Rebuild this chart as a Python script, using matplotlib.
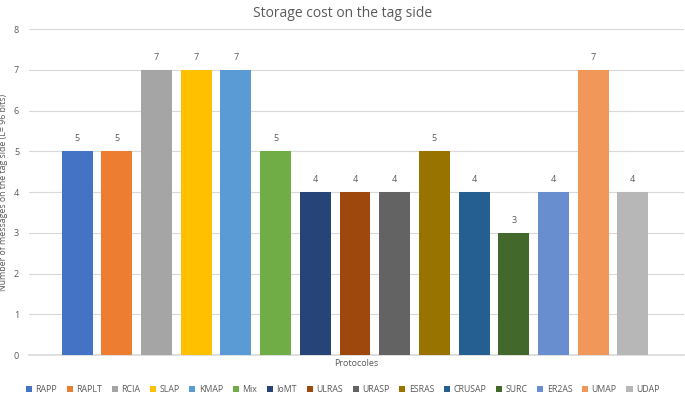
import matplotlib.pyplot as plt
import numpy as np
from matplotlib.patches import Patch

plt.rcParams['font.family'] = ['Open Sans', 'DejaVu Sans']

protocols = ['RAPP', 'RAPLT', 'RCIA', 'SLAP', 'KMAP', 'Mix', 'IoMT', 'ULRAS',
             'URASP', 'ESRAS', 'CRUSAP', 'SURC', 'ER2AS', 'UMAP', 'UDAP']
messages = [5, 5, 7, 7, 7, 5, 4, 4, 4, 5, 4, 3, 4, 7, 4]
colors = ['#4472C4', '#ED7D31', '#A5A5A5', '#FFC000', '#5B9BD5', '#70AD47',
          '#264478', '#9E480E', '#636363', '#997300', '#255E91', '#43682B',
          '#698ED0', '#F1975A', '#B7B7B7']

txt = '#595959'

fig = plt.figure(figsize=(6.85, 3.98), dpi=100)
ax = fig.add_axes([0.042, 0.108, 0.956, 0.819])

x = np.arange(len(protocols))
ax.bar(x, messages, width=0.78, color=colors, zorder=3)
for i, v in enumerate(messages):
    ax.text(i, v + 0.2, str(v), ha='center', va='bottom', fontsize=6.5, color=txt)

ax.set_xlim(-1.22, 15.28)
ax.set_ylim(0, 8)
ax.set_yticks(range(0, 9))
ax.set_xticks([])
ax.tick_params(axis='y', length=0, labelsize=6.5, labelcolor=txt, pad=7)
ax.grid(axis='y', color='#D9D9D9', linewidth=0.8, zorder=0)
for s in ['top', 'right', 'left']:
    ax.spines[s].set_visible(False)
ax.spines['bottom'].set_color('#D9D9D9')
ax.spines['bottom'].set_linewidth(1.2)

ax.set_ylabel('Number of messages on the tag side (L= 96 bits)', fontsize=6.3,
              color=txt)
ax.yaxis.set_label_coords(-0.032, 0.5)
ax.set_xlabel('Protocoles', fontsize=6.5, color=txt, labelpad=3)
fig.suptitle('Storage cost on the tag side', fontsize=10, color=txt, y=0.985)

handles = [Patch(facecolor=c) for c in colors]
fig.legend(handles, protocols, loc='lower center', ncol=len(protocols),
           bbox_to_anchor=(0.5, -0.01), frameon=False, fontsize=6.3,
           labelcolor=txt, handlelength=0.7, handleheight=0.7,
           handletextpad=0.4, columnspacing=1.1)

fig.savefig('out.png', dpi=100)
